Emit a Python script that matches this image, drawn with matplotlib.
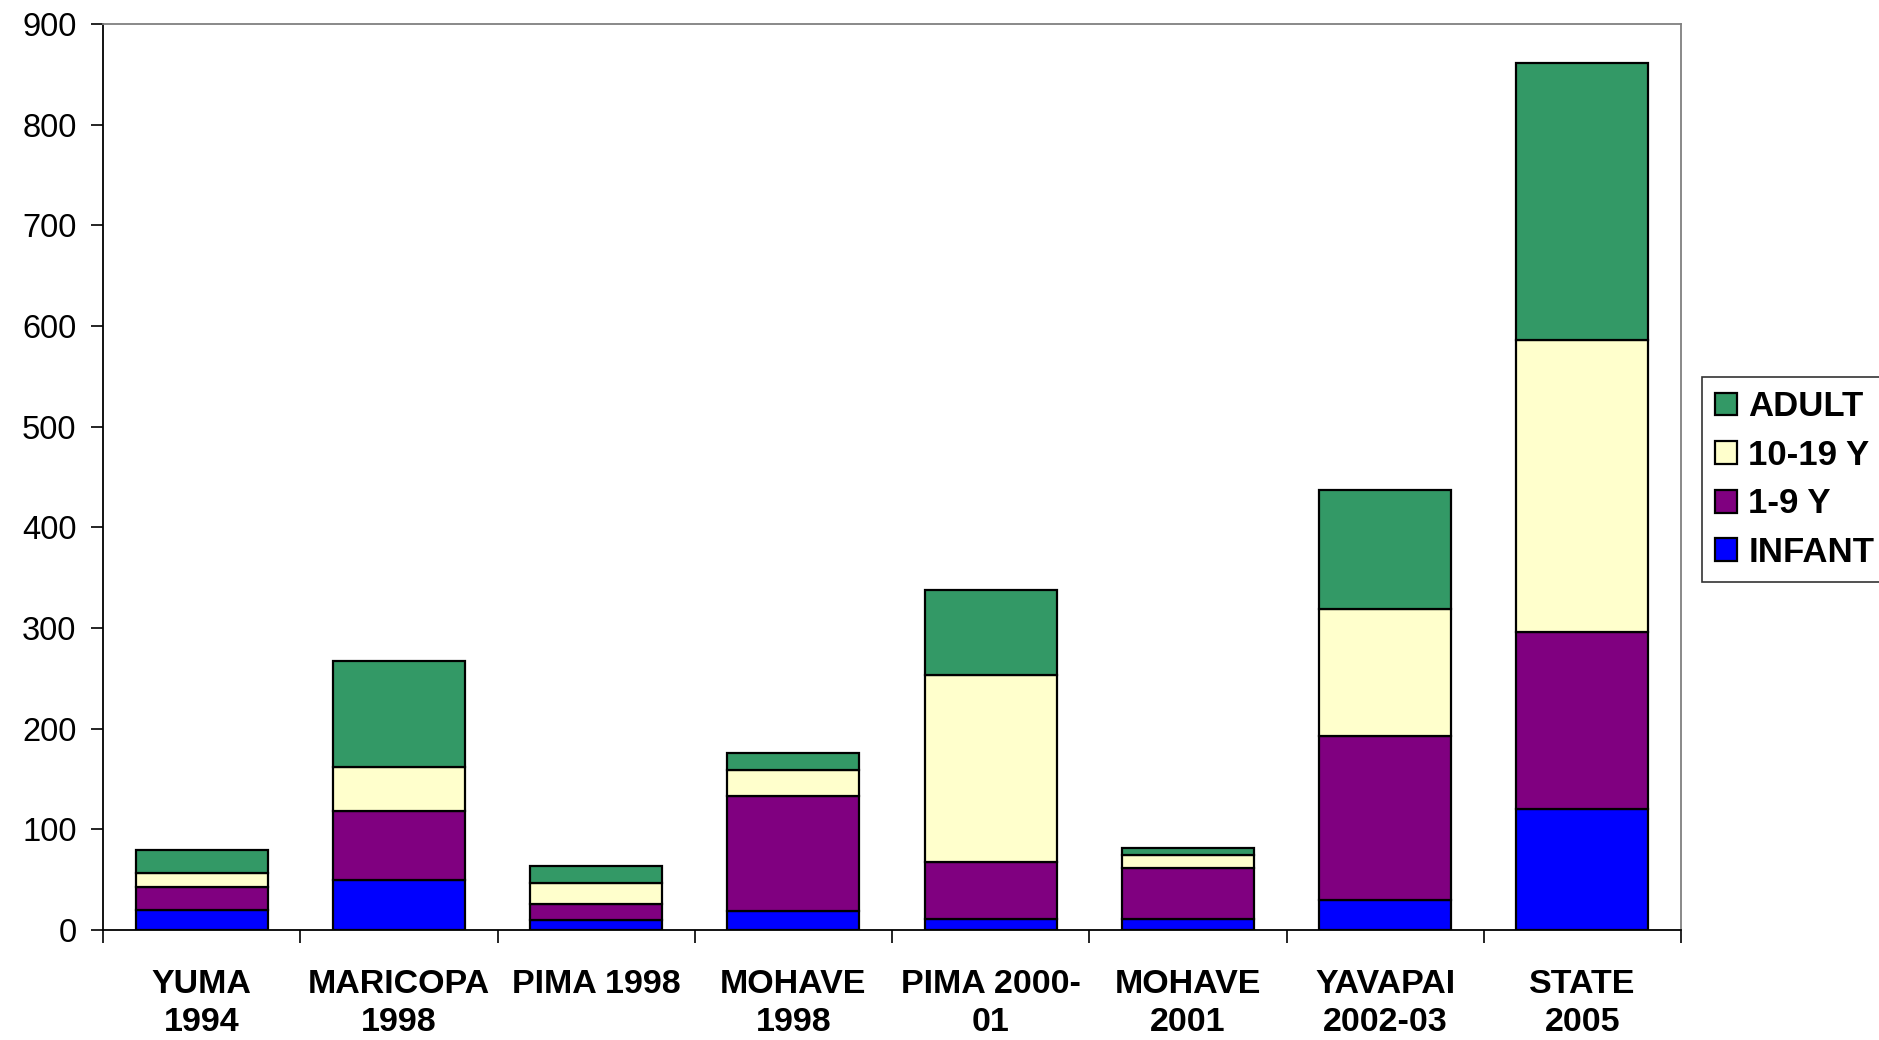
import matplotlib
matplotlib.use("Agg")
import matplotlib.pyplot as plt
import numpy as np

plt.rcParams['font.family'] = ['Liberation Sans', 'DejaVu Sans']

categories = ["YUMA\n1994", "MARICOPA\n1998", "PIMA 1998", "MOHAVE\n1998",
              "PIMA 2000-\n01", "MOHAVE\n2001", "YAVAPAI\n2002-03", "STATE\n2005"]
infant = [20, 50, 10, 19, 11, 11, 30, 120]
age_1_9 = [23, 68, 16, 114, 57, 51, 163, 176]
age_10_19 = [14, 44, 21, 26, 185, 13, 126, 290]
adult = [22, 105, 17, 17, 85, 6, 118, 275]
series_names = ["INFANT", "1-9 Y", "10-19 Y", "ADULT"]
series_colors = ["#0000FF", "#800080", "#FFFFCC", "#339966"]
yticks = list(range(0, 1000, 100))

fig = plt.figure(figsize=(18.79, 10.40), dpi=100)
ax = fig.add_axes([103/1879, 1-930/1040, (1681-103)/1879, (930-24)/1040])

x = np.arange(len(categories))
bottom = np.zeros(len(categories))
handles = []
for name, vals, col in zip(series_names, [infant, age_1_9, age_10_19, adult], series_colors):
    b = ax.bar(x, vals, width=0.67, bottom=bottom, color=col, edgecolor='black',
               linewidth=1.6, label=name, zorder=3)
    handles.append(b)
    bottom += np.array(vals)

ax.set_xlim(-0.5, len(categories) - 0.5)
ax.set_ylim(0, 900)
ax.set_yticks(yticks)
ax.set_yticklabels([str(v) for v in yticks], fontsize=23.5)
ax.tick_params(axis='y', direction='out', length=9, width=1.2, pad=10, color='black')

ax.set_xticks(x)
ax.set_xticklabels(categories, fontsize=24.5, fontweight='bold', linespacing=1.3)
ax.tick_params(axis='x', which='major', length=0, pad=28)
ax.set_xticks(np.arange(-0.5, len(categories)), minor=True)
ax.tick_params(axis='x', which='minor', direction='out', length=9, width=1.2, color='black')

for s in ['left', 'bottom']:
    ax.spines[s].set_color('black')
    ax.spines[s].set_linewidth(1.3)
for s in ['top', 'right']:
    ax.spines[s].set_color('#808080')
    ax.spines[s].set_linewidth(1.3)

leg = fig.legend(handles[::-1], series_names[::-1], loc='upper left',
                 bbox_to_anchor=(1702/1879, 1-377/1040), frameon=True, fancybox=False,
                 edgecolor='black', prop={'size': 25, 'weight': 'bold'},
                 handlelength=0.63, handleheight=0.63, handletextpad=0.32,
                 labelspacing=0.45, borderpad=0.38, borderaxespad=0)
leg.get_frame().set_linewidth(1.2)

fig.savefig("out.png", dpi=100)
